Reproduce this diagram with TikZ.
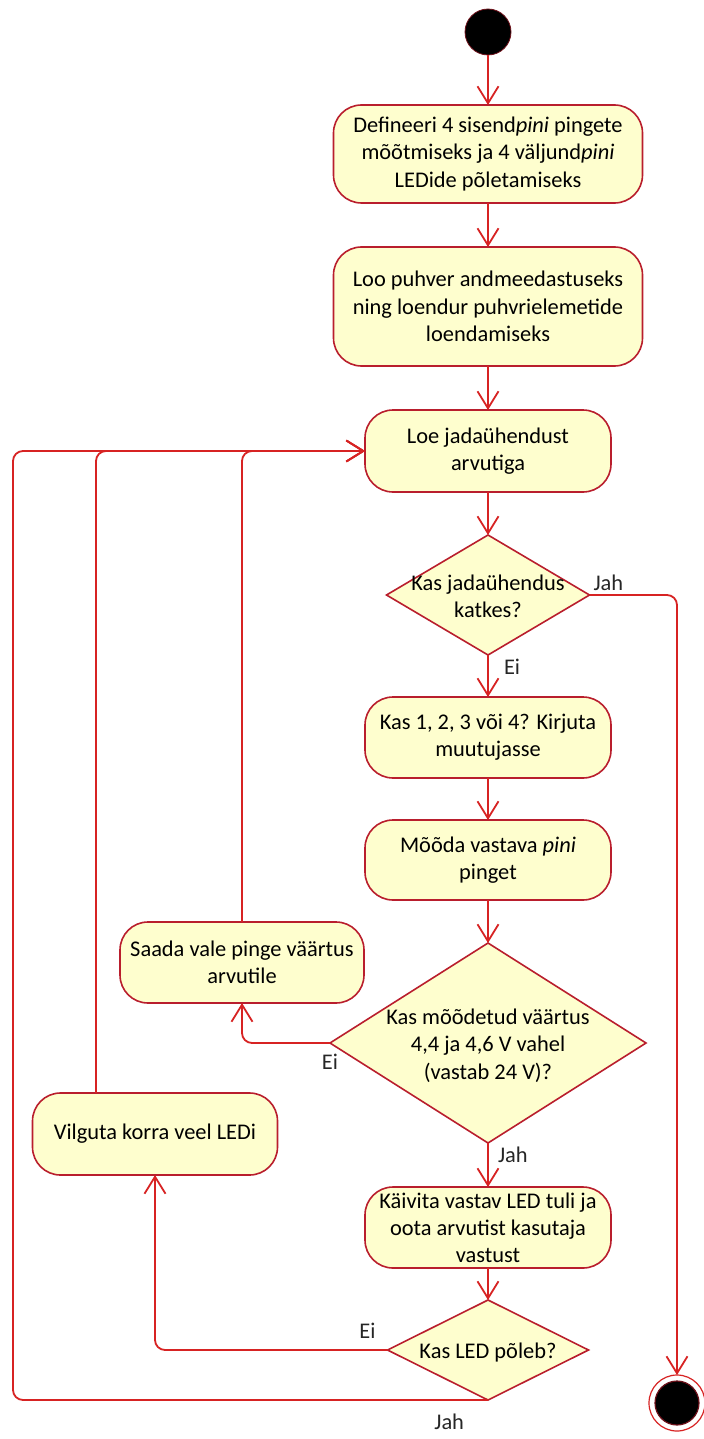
\documentclass[tikz,border=0pt]{standalone}
\usepackage{fontspec}
\setmainfont{Carlito}
\usetikzlibrary{arrows.meta, positioning, shapes.geometric}

\definecolor{actfill}{RGB}{254,254,206}
\definecolor{actline}{RGB}{185,30,45}
\definecolor{flowline}{RGB}{215,35,35}

% text in a decision, kept out of the size of the diamond
\newcommand{\dtxt}[1]{\smash{\raisebox{-4.5pt}{\makebox[0pt]{\begin{tabular}{@{}c@{}}#1\end{tabular}}}}}

\begin{document}
\begin{tikzpicture}[
    >={Straight Barb[length=8.5pt, width=10.5pt]},
    font=\fontsize{11.2}{13.6}\selectfont,
    every node/.style={outer sep=0pt},
    action/.style={draw=actline, fill=actfill, line width=0.8pt,
                   rounded corners=14pt, align=center, inner sep=1pt,
                   minimum width=123pt, minimum height=40.5pt},
    decision/.style={diamond, draw=actline, fill=actfill,
                     line width=0.8pt, inner sep=0pt},
    flow/.style={->, draw=flowline, line width=0.9pt},
    backflow/.style={flow, rounded corners=5pt},
    lbl/.style={inner sep=2pt, text=black!85}
  ]
  \useasboundingbox (0,0) rectangle (352pt,-719.5pt);

  \node[circle, fill=black, draw=actline!60!black, minimum size=23pt]
    (start) at (244pt,-16pt) {};
  \node[action, minimum width=154.5pt, minimum height=49pt, below=25pt of start]
    (define) {Defineeri 4 sisend\textit{pini} pingete\\
              mõõtmiseks ja 4 väljund\textit{pini}\\ LEDide põletamiseks};
  \node[action, minimum width=154.5pt, minimum height=59.5pt, below=22pt of define]
    (buffer) {Loo puhver andmeedastuseks\\ ning loendur puhvrielemetide\\
              loendamiseks};
  \node[action, minimum height=41pt, below=22pt of buffer]
    (read) {Loe jadaühendust\\ arvutiga};
  \node[decision, minimum width=101.5pt, minimum height=60pt, below=21.5pt of read]
    (broken) {\dtxt{Kas jadaühendus\\ katkes?}};
  \node[action, below=21pt of broken]
    (store) {Kas 1, 2, 3 või 4? Kirjuta\\ muutujasse};
  \node[action, minimum height=40pt, below=21pt of store]
    (measure) {Mõõda vastava \textit{pini}\\ pinget};
  \node[decision, minimum width=158pt, minimum height=100pt, below=21.5pt of measure]
    (inrange) {\dtxt{Kas mõõdetud väärtus\\ 4,4 ja 4,6 V vahel\\ (vastab 24 V)?}};
  \node[action, below=22pt of inrange]
    (ledon) {Käivita vastav LED tuli ja\\ oota arvutist kasutaja\\ vastust};
  \node[decision, minimum width=100.5pt, minimum height=50pt, below=16pt of ledon]
    (burns) {\dtxt{Kas LED põleb?}};

  % side branches
  \node[action, minimum width=122pt] (sendbad) at (121pt,-481.25pt)
    {Saada vale pinge väärtus\\ arvutile};
  \node[action, minimum width=122.5pt, minimum height=41pt] (blink) at (77.5pt,-567pt)
    {Vilguta korra veel LEDi};
  \node[circle, draw=flowline, fill=white, line width=0.6pt, minimum size=28pt,
        path picture={\fill[black, draw=actline!60!black]
          (path picture bounding box.center) circle (11pt);}]
    (stop) at (338.5pt,-701.5pt) {};
  \coordinate (leftrail) at (6.5pt,0);

  \draw[flow] (start) -- (define);
  \draw[flow] (define) -- (buffer);
  \draw[flow] (buffer) -- (read);
  \draw[flow] (read) -- (broken);
  \draw[flow] (broken) -- (store) node[lbl, pos=0, below right, xshift=6pt] {Ei};
  \draw[flow] (store) -- (measure);
  \draw[flow] (measure) -- (inrange);
  \draw[flow] (inrange) -- (ledon) node[lbl, pos=0, below right, xshift=3pt] {Jah};
  \draw[flow] (ledon) -- (burns);

  \draw[backflow] (broken.east) node[lbl, above right] {Jah} -| (stop.north);
  \draw[backflow] (inrange.west) node[lbl, below, yshift=-3.5pt] {Ei} -| (sendbad.south);
  \draw[backflow] (sendbad.north) |- (read.west);
  \draw[backflow] (burns.west) node[lbl, above left, xshift=-4pt, yshift=4pt] {Ei}
    -| (blink.south);
  \draw[backflow] ([xshift=-29.5pt]blink.north) |- (read.west);
  \draw[backflow] (burns.south) node[lbl, below left, xshift=-10pt, yshift=-5pt] {Jah}
    -- (burns.south -| leftrail) |- (read.west);
\end{tikzpicture}
\end{document}
